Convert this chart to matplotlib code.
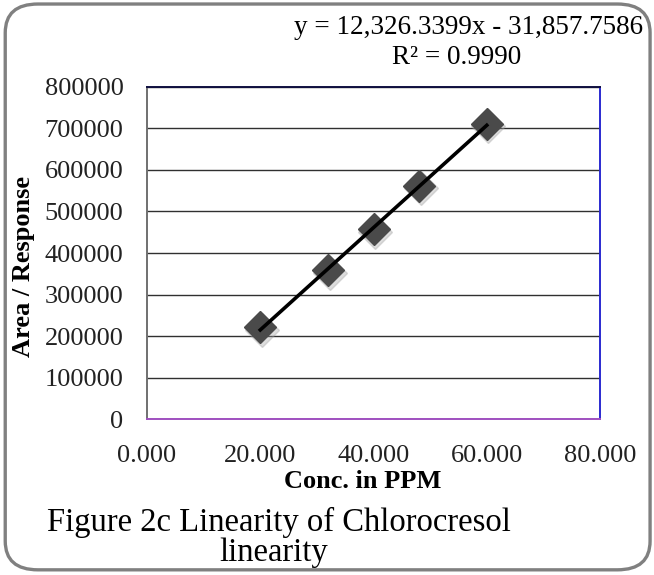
import numpy as np
import matplotlib.pyplot as plt
import matplotlib.transforms as mtransforms
from matplotlib.patches import FancyBboxPatch

# data
conc_ppm = [20, 32, 40, 48, 60]
area_response = [221000, 358000, 457000, 562000, 711000]
slope = 12326.3399
intercept = -31857.7586
r_squared = 0.9990

x_ticks = [0, 20, 40, 60, 80]
y_ticks = [0, 100000, 200000, 300000, 400000, 500000, 600000, 700000, 800000]

plt.rcParams['font.family'] = ['Liberation Serif', 'DejaVu Serif']

fig = plt.figure(figsize=(6.54, 5.75), dpi=100)

# rounded outer frame
frame = FancyBboxPatch((0.008, 0.009), 0.986, 0.984,
                       boxstyle="round,pad=0,rounding_size=0.05",
                       transform=fig.transFigure, facecolor="white",
                       edgecolor="#808080", linewidth=2.4, zorder=-10)
fig.patches.append(frame)

ax = fig.add_axes([0.2248, 0.2713, 0.6927, 0.5774])
ax.set_facecolor("white")
ax.set_xlim(0, 80)
ax.set_ylim(0, 800000)
ax.set_xticks(x_ticks)
ax.set_xticklabels([f"{v:.3f}" for v in x_ticks])
ax.set_yticks(y_ticks)
ax.set_yticklabels([str(v) for v in y_ticks])
ax.tick_params(length=0, labelsize=19, colors="#222222")
ax.tick_params(axis="x", pad=19)
ax.tick_params(axis="y", pad=17)
ax.yaxis.grid(True, color="#303030", linewidth=1.0)
ax.set_axisbelow(True)

ax.spines["top"].set_color("#101040")
ax.spines["right"].set_color("#2a2ad0")
ax.spines["bottom"].set_color("#a050c0")
ax.spines["left"].set_color("#707070")
for s in ax.spines.values():
    s.set_linewidth(1.4)

# trendline
fit_x = np.array([min(conc_ppm), max(conc_ppm)])
ax.plot(fit_x, slope * fit_x + intercept, color="black", linewidth=2.6, zorder=4)

# marker shadow then markers
shadow = mtransforms.offset_copy(ax.transData, fig=fig, x=1.2, y=-1.8, units="points")
ax.plot(conc_ppm, area_response, linestyle="none", marker="D", markersize=17,
        color="#a0a0a0", alpha=0.35, transform=shadow, zorder=3)
ax.plot(conc_ppm, area_response, linestyle="none", marker="D", markersize=16,
        color="#4a4a4a", zorder=3)

fig.text(363 / 654, 1 - 481 / 575, "Conc. in PPM", ha="center", va="center",
         fontsize=19, fontweight="bold")
fig.text(24 / 654, 1 - 266 / 575, "Area / Response", ha="center", va="center",
         rotation=90, fontsize=19, fontweight="bold")

fig.text(643 / 654, 1 - 28 / 575, f"y = {slope:,.4f}x - {-intercept:,.4f}", ha="right",
         va="center", fontsize=19.5)
fig.text(457 / 654, 1 - 58 / 575, f"R² = {r_squared:.4f}", ha="center", va="center",
         fontsize=19.5)

fig.text(279 / 654, 1 - 522 / 575, "Figure 2c Linearity of Chlorocresol", ha="center",
         va="center", fontsize=23.5)
fig.text(274 / 654, 1 - 553 / 575, "linearity", ha="center", va="center", fontsize=23.5)

fig.savefig("out.png", dpi=100)
